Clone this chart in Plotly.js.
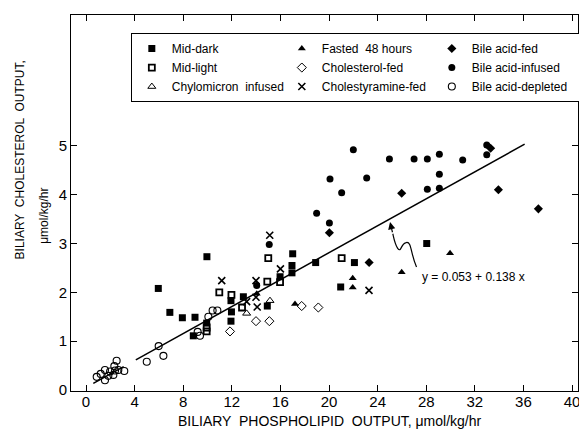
<!DOCTYPE html>
<html>
<head>
<meta charset="utf-8">
<script src="https://cdn.plot.ly/plotly-3.0.1.min.js"></script>
<style>html,body{margin:0;padding:0;background:#fff;}#chart{width:579px;height:429px;}</style>
</head>
<body>
<div id="chart"></div>
<script>
// ---- data ----
const midDarkX = [5.95, 6.9, 7.93, 8.97, 9.95, 8.83, 9.93, 11.93, 11.97, 11.93, 12.95, 14.92, 15.97, 16.95, 16.95, 17.01, 18.9, 20.96, 22.09, 28.04];
const midDarkY = [2.08, 1.59, 1.48, 1.49, 2.73, 1.11, 1.37, 1.83, 1.60, 1.41, 1.91, 1.72, 2.32, 2.40, 2.55, 2.79, 2.61, 2.11, 2.61, 3.0];

const midLightX = [10.97, 9.93, 9.93, 11.97, 12.84, 14.92, 15.0, 15.97, 21.04];
const midLightY = [2.0, 1.28, 1.2, 1.95, 1.69, 2.22, 2.70, 2.21, 2.70];

const chyloX = [13.22, 15.14];
const chyloY = [1.57, 1.83];

const fastedX = [14.05, 17.2, 21.95, 21.95, 25.98, 29.96];
const fastedY = [1.97, 1.76, 2.29, 2.10, 2.41, 2.80];

const cholFedX = [11.85, 13.99, 15.09, 17.75, 19.12];
const cholFedY = [1.2, 1.41, 1.41, 1.72, 1.69];

const cholestyrX = [11.17, 13.22, 13.99, 13.99, 14.09, 15.12, 16.0, 23.29];
const cholestyrY = [2.24, 1.81, 2.24, 1.90, 1.70, 3.17, 2.48, 2.04];

const baFedX = [20.03, 25.98, 33.3, 33.94, 37.23, 23.3];
const baFedY = [3.22, 4.03, 4.95, 4.10, 3.71, 2.61];

const baInfX = [14.05, 15.08, 18.98, 20.03, 20.08, 21.04, 22.0, 23.1, 24.97, 27.0, 28.09, 28.09, 29.08, 29.08, 29.08, 31.0, 32.98, 32.98];
const baInfY = [2.14, 2.98, 3.62, 3.42, 4.32, 4.04, 4.92, 4.34, 4.73, 4.73, 4.73, 4.11, 4.83, 4.42, 4.13, 4.71, 5.02, 4.82];

const baDepX = [0.88, 1.21, 1.56, 1.56, 1.84, 1.98, 2.25, 2.39, 2.33, 2.52, 2.66, 3.15, 5.0, 5.98, 6.37, 9.19, 9.38, 10.07, 10.42, 10.81];
const baDepY = [0.27, 0.33, 0.41, 0.20, 0.29, 0.38, 0.31, 0.40, 0.49, 0.60, 0.41, 0.39, 0.58, 0.90, 0.70, 1.19, 1.11, 1.50, 1.63, 1.63];

// regression y = 0.053 + 0.138 x
const intercept = 0.053, slope = 0.138;
const fitX = [0.6, 3.1, null, 4.1, 36.1];
const fitY = fitX.map(v => v === null ? null : intercept + slope * v);

const xTicks = [0, 4, 8, 12, 16, 20, 24, 28, 32, 36, 40];
const yTicks = [0, 1, 2, 3, 4, 5];

const F = 'Liberation Sans, Arial, sans-serif';
function tr(name, x, y, symbol, lw, size) {
  return {type: 'scatter', mode: 'markers', name: name, x: x, y: y,
    marker: {symbol: symbol, size: size || 7, color: '#000', line: {color: '#000', width: lw || 0}},
    hoverinfo: 'skip'};
}
const traces = [
  {type:'scatter', mode:'lines', x: fitX, y: fitY, line:{color:'#000', width:1.5}, showlegend:false, hoverinfo:'skip'},
  tr('Mid-dark', midDarkX, midDarkY, 'square'),
  tr('Fasted  48 hours', fastedX, fastedY, 'triangle-up'),
  tr('Bile acid-fed', baFedX, baFedY, 'diamond'),
  tr('Mid-light', midLightX, midLightY, 'square-open', 1.8, 6),
  tr('Cholesterol-fed', cholFedX, cholFedY, 'diamond-open', 1),
  tr('Bile acid-infused', baInfX, baInfY, 'circle'),
  tr('Chylomicron  infused', chyloX, chyloY, 'triangle-up-open', 1),
  tr('Cholestyramine-fed', cholestyrX, cholestyrY, 'x-thin-open', 1.6),
  tr('Bile acid-depleted', baDepX, baDepY, 'circle-open', 1.1)
];

const layout = {
  width: 579, height: 429,
  margin: {l: 71, r: 1, t: 15, b: 38, autoexpand: false},
  paper_bgcolor: '#fff', plot_bgcolor: '#fff',
  font: {family: F, color: '#000', size: 16},
  showlegend: true,
  legend: {orientation: 'h', x: 0.118, y: 0.952, xanchor: 'left', yanchor: 'top',
    bordercolor: '#000', borderwidth: 1, bgcolor: '#fff',
    entrywidth: 105, entrywidthmode: 'pixels', itemwidth: 30, tracegroupgap: 0,
    font: {family: F, size: 12, color: '#000'}},
  xaxis: {range: [-1.235, 40.49], tickvals: xTicks, ticktext: xTicks.map(String),
    ticks: 'inside', ticklen: 6, tickwidth: 1, tickcolor: '#000', ticklabeloverflow: 'allow',
    automargin: false, ticklabelstandoff: -3,
    showline: true, linecolor: '#000', linewidth: 1, mirror: 'ticks',
    showgrid: false, zeroline: false, tickfont: {size: 15}},
  yaxis: {range: [-0.02, 7.68], tickvals: yTicks, ticktext: yTicks.map(String),
    ticks: 'inside', ticklen: 6, tickwidth: 1, tickcolor: '#000', automargin: false,
    showline: true, linecolor: '#000', linewidth: 1, mirror: 'ticks',
    showgrid: false, zeroline: false, tickfont: {size: 15}},
  annotations: [
    {xref:'paper', yref:'paper', x: 0.51, y: -0.08, yanchor:'middle', showarrow:false,
     text:'BILIARY  PHOSPHOLIPID  OUTPUT, μmol/kg/hr', font:{size:14}},
    {xref:'paper', yref:'paper', x: -0.1, y: 0.614, xanchor:'center', showarrow:false, textangle:-90,
     text:'BILIARY  CHOLESTEROL  OUTPUT,', font:{size:12}},
    {xref:'paper', yref:'paper', x: -0.052, y: 0.465, xanchor:'center', showarrow:false, textangle:-90,
     text:'μmol/kg/hr', font:{size:12}},
    {xref:'x', yref:'y', x: 27.5, y: 2.32, xanchor:'left', showarrow:false,
     text:'y = 0.053 + 0.138 x', font:{size:12}},
    {xref:'x', yref:'y', x: 25.02, y: 3.44, axref:'x', ayref:'y', ax: 25.25, ay: 3.2,
     showarrow:true, arrowhead:2, arrowsize:1.2, arrowwidth:1.2, arrowcolor:'#000', text:''}
  ],
  shapes: [
    {type:'path', xref:'x', yref:'y', line:{color:'#000', width:1.2},
     path:'M 27.2,2.52 C 26.7,2.8 26.8,3.05 26.35,3.02 C 25.9,3.0 25.95,2.8 25.65,2.9 C 25.4,3.0 25.3,3.15 25.25,3.2'}
  ]
};

Plotly.newPlot('chart', traces, layout, {displayModeBar:false, staticPlot:true});
</script>
</body>
</html>
